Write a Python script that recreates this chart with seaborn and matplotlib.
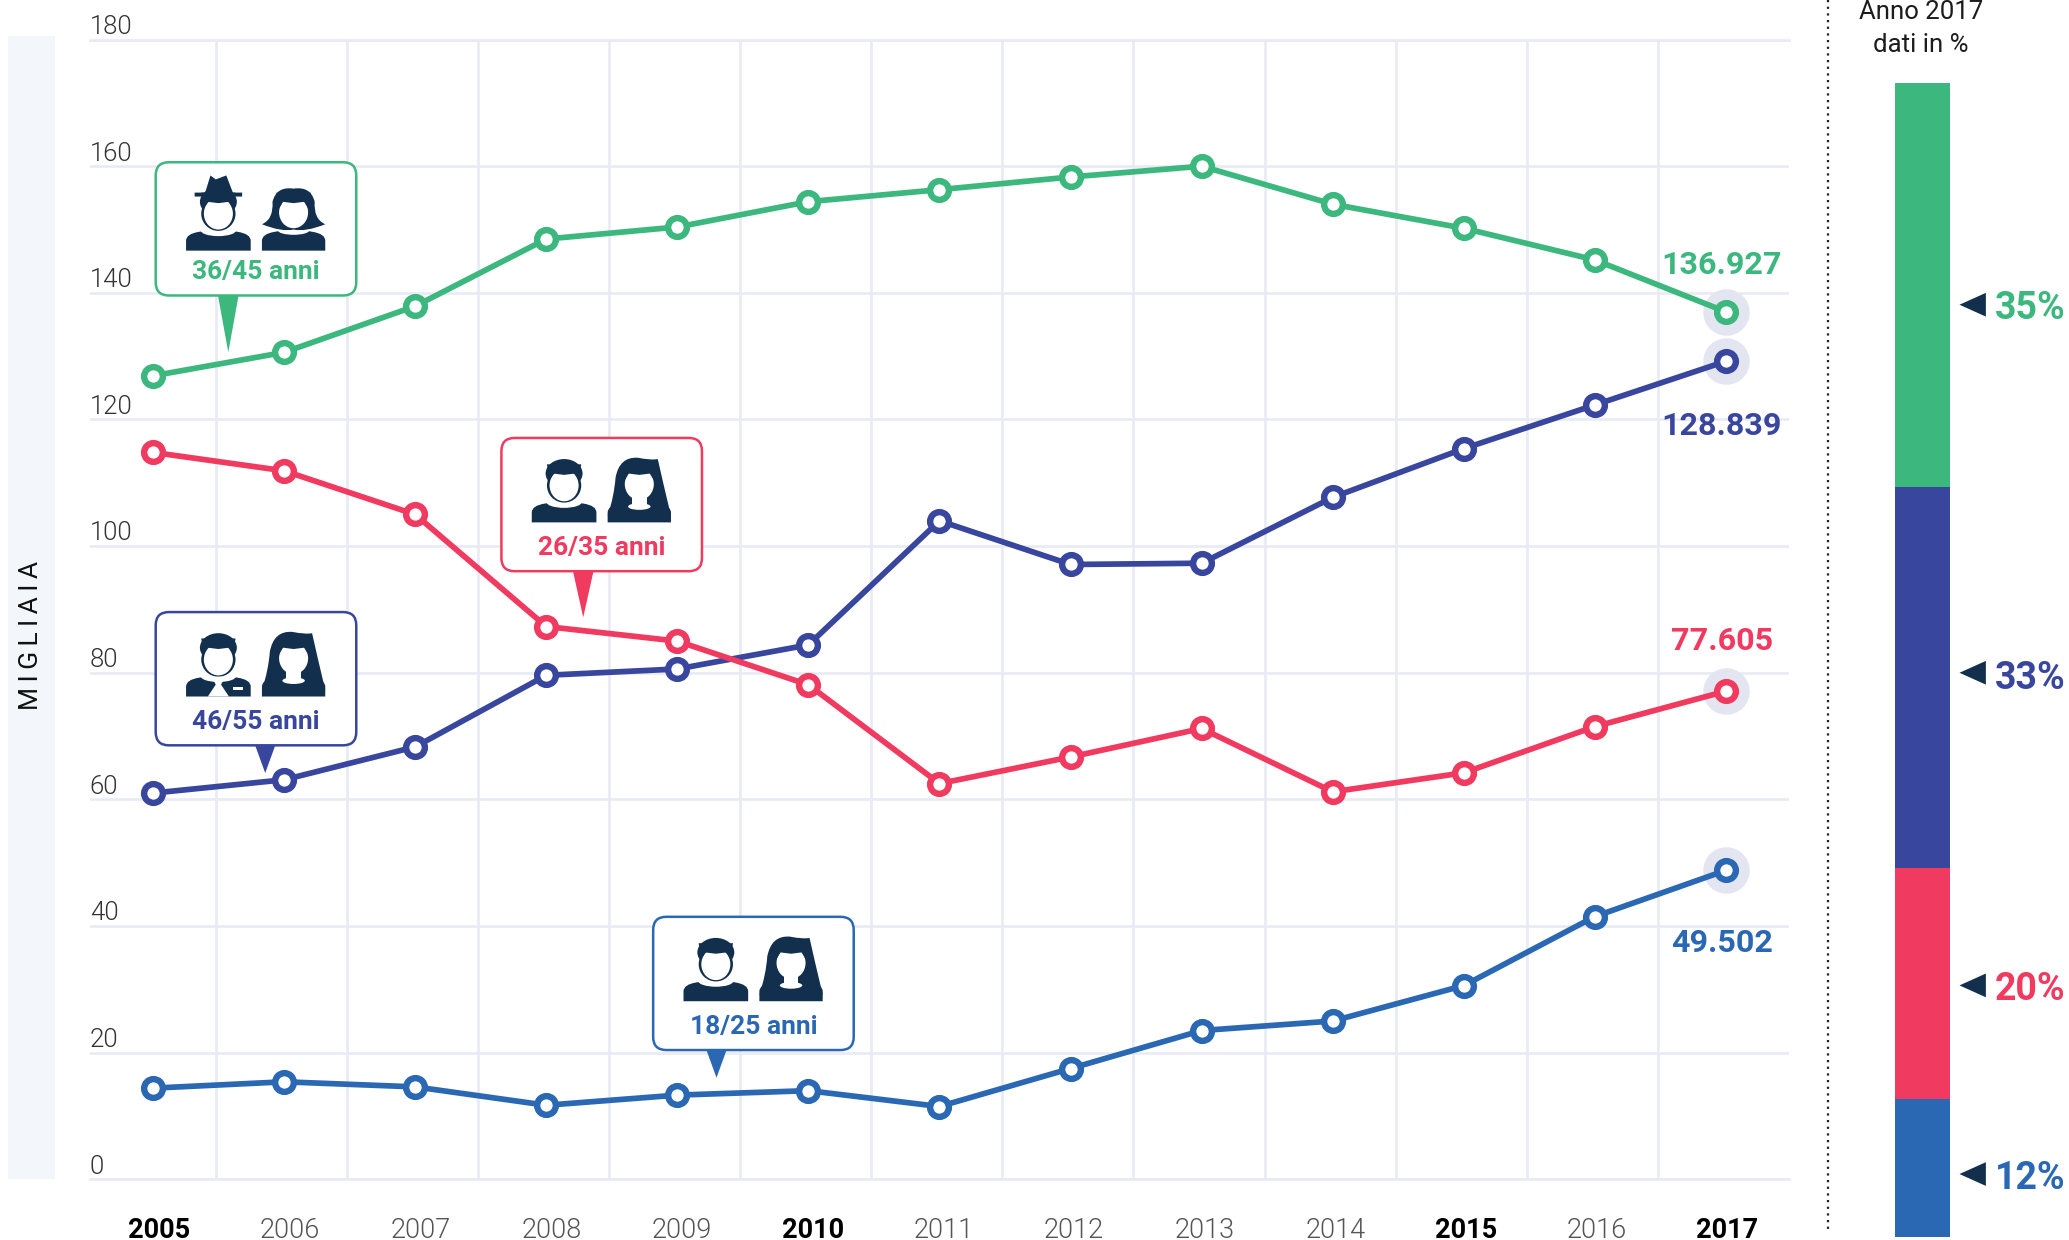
import numpy as np
import pandas as pd
import matplotlib
matplotlib.use("Agg")
import matplotlib.pyplot as plt
import matplotlib.transforms as mtrans
from matplotlib.patches import FancyBboxPatch, Polygon, Ellipse, PathPatch, Rectangle
from matplotlib.path import Path
import seaborn as sns

# ---------- data ----------
years = [2005, 2006, 2007, 2008, 2009, 2010, 2011, 2012, 2013, 2014, 2015, 2016, 2017]
age_36_45 = [126.9, 130.6, 137.9, 148.5, 150.4, 154.4, 156.3, 158.3, 160.0, 154.0, 150.2, 145.2, 137.0]
age_46_55 = [61.0, 63.1, 68.3, 79.6, 80.6, 84.4, 104.0, 97.1, 97.3, 107.7, 115.4, 122.3, 129.2]
age_26_35 = [114.8, 111.9, 105.0, 87.3, 85.0, 78.1, 62.5, 66.7, 71.2, 61.2, 64.2, 71.5, 77.1]
age_18_25 = [14.4, 15.4, 14.6, 11.7, 13.3, 14.0, 11.5, 17.5, 23.5, 25.0, 30.6, 41.5, 48.8]
end_labels = ["136.927", "128.839", "77.605", "49.502"]
share_names = ["36/45 anni", "46/55 anni", "26/35 anni", "18/25 anni"]
share_2017 = [35, 33, 20, 12]
bold_years = [2005, 2010, 2015, 2017]
y_ticks = list(range(0, 181, 20))

GREEN, NAVY, RED, BLUE = "#3CB77E", "#39469E", "#F03A5F", "#2B68B3"
COLORS = [GREEN, NAVY, RED, BLUE]
GRID = "#E8EAF4"
DARK = "#12304E"

sns.set_theme(style="white")
plt.rcParams["font.family"] = ["Roboto", "DejaVu Sans"]

W, H = 1568.0, 940.0
fig = plt.figure(figsize=(20.69, 12.40), dpi=100, facecolor="white")
fig.add_artist(Rectangle((6 / W, 1 - 894 / H), 36 / W, 867 / H, transform=fig.transFigure,
                         fc="#F3F6FB", ec="none", zorder=-1))

# ---------- main chart ----------
ax = fig.add_axes([68 / W, 1 - 894 / H, (1356 - 68) / W, (894 - 30) / H], facecolor="none")
series = [age_36_45, age_46_55, age_26_35, age_18_25]
df = pd.DataFrame({"anno": years * 4,
                   "valore": sum(series, []),
                   "fascia": [n for n in share_names for _ in years]})
last = df[df["anno"] == years[-1]]
sns.scatterplot(data=last, x="anno", y="valore", s=1120, color="#E3E6F0", linewidth=0,
                ax=ax, zorder=2, clip_on=False, legend=False)
for name, col in zip(share_names, COLORS):
    sns.lineplot(data=df[df["fascia"] == name], x="anno", y="valore", color=col, lw=4.1,
                 marker="o", ms=13.5, mfc="white", mec=col, mew=4.6, ax=ax, zorder=3,
                 errorbar=None, legend=False, clip_on=False)

ax.set_xlim(years[0] - 0.483, years[-1] + 0.483)
ax.set_ylim(0, 180)
ax.set_xlabel("")
ax.set_ylabel("M\u2009I\u2009G\u2009L\u2009I\u2009A\u2009I\u2009A", fontsize=19, fontweight="normal",
              color="#111111", va="center")
ax.yaxis.set_label_coords(-0.0345, 0.477)

ax.set_xticks(np.linspace(years[0] + 0.05, years[-1] + 0.01, len(years)))
ax.set_xticklabels([str(y) for y in years])
ax.set_xticks([y + 0.48 for y in years[:-1]], minor=True)
ax.set_yticks(y_ticks)
ax.set_yticklabels([str(v) for v in y_ticks])
ax.tick_params(axis="x", which="both", length=0, pad=27, labelsize=19.5)
ax.tick_params(axis="y", length=0, pad=0, labelsize=18.5)
ax.grid(False)
ax.grid(True, axis="y", which="major", color=GRID, lw=1.9)
ax.grid(True, axis="x", which="minor", color=GRID, lw=1.9)
ax.set_axisbelow(True)
for side, sp in ax.spines.items():
    sp.set_visible(side in ("top", "bottom"))
    sp.set_color(GRID)
    sp.set_linewidth(1.9)

for lab, y in zip(ax.get_xticklabels(), years):
    if y in bold_years:
        lab.set_fontweight("bold")
        lab.set_color("#000000")
    else:
        lab.set_fontweight(300)
        lab.set_color("#555555")
offset = mtrans.ScaledTranslation(0, 0.5 / 72, fig.dpi_scale_trans)
for lab in ax.get_yticklabels():
    lab.set_ha("left")
    lab.set_va("bottom")
    lab.set_fontweight(300)
    lab.set_color("#333333")
    lab.set_transform(lab.get_transform() + offset)

# ---------- 2017 stacked bar ----------
ax2 = fig.add_axes([1436 / W, 1 - 938 / H, 42 / W, (938 - 63) / H], facecolor="none")
bar_df = pd.DataFrame({"anno": [2017] * 4, "pct": share_2017, "fascia": share_names})
sns.histplot(data=bar_df, x="anno", weights="pct", hue="fascia", hue_order=share_names,
             palette=COLORS, multiple="stack", discrete=True, shrink=1, alpha=1, linewidth=0,
             legend=False, ax=ax2)
ax2.set_xlim(2016.5, 2017.5)
ax2.set_ylim(0, sum(share_2017))
ax2.axis("off")

# ---------- overlay in picture coordinates ----------
ov = fig.add_axes([0, 0, 1, 1], facecolor="none", zorder=5)
ov.set_xlim(0, W)
ov.set_ylim(H, 0)
ov.axis("off")

ov.plot([1385, 1385], [0, 932], ls=(0, (1, 2)), color="#222222", lw=1.6)
ov.text(1456, 9, "Anno 2017", ha="center", va="center", fontsize=18.5, color="#1C1C1C")
ov.text(1456, 34, "dati in %", ha="center", va="center", fontsize=18.5, color="#1C1C1C")

C3, L = Path.CURVE3, Path.LINETO


def curve(start, segs, z, fc=DARK):
    verts, codes = [start], [Path.MOVETO]
    for s in segs:
        if len(s) == 2:
            verts.append(s)
            codes.append(L)
        else:
            verts += [(s[0], s[1]), (s[2], s[3])]
            codes += [C3, C3]
    verts.append(start)
    codes.append(Path.CLOSEPOLY)
    ov.add_patch(PathPatch(Path(verts, codes), fc=fc, ec="none", zorder=z))


def shoulders(cx, b, hw=24.5, h=15):
    curve((cx - hw, b), [(cx - hw, b - h * 0.5), (cx - hw, b - h * 0.85, cx - hw * 0.6, b - h * 0.95),
                         (cx - hw * 0.25, b - h * 1.05), (cx + hw * 0.25, b - h * 1.05),
                         (cx + hw * 0.6, b - h * 0.95), (cx + hw, b - h * 0.85, cx + hw, b - h * 0.5),
                         (cx + hw, b)], 7)


def fringe(cx, b, hw=11):
    ov.add_patch(Polygon([(cx - hw, b - 32), (cx - hw + 3, b - 37), (cx, b - 36), (cx + hw - 3, b - 37), (cx + hw, b - 32),
                          (cx + hw + 2, b - 44), (cx - hw - 2, b - 44)], fc=DARK, ec="none", zorder=7.5))


def man(cx, b, hat=False, tie=False):
    shoulders(cx, b)
    ov.add_patch(Ellipse((cx, b - 15.5), 27, 9, fc="white", ec="none", zorder=7.1))
    ov.add_patch(Ellipse((cx, b - 37), 28, 22, fc=DARK, ec="none", zorder=7.2))
    ov.add_patch(Ellipse((cx, b - 28), 26, 26, fc=DARK, ec="none", zorder=7.3))
    ov.add_patch(Ellipse((cx, b - 28), 22, 24, fc="white", ec="none", zorder=7.4))
    fringe(cx, b)
    if hat:
        ov.add_patch(Polygon([(cx - 10, b - 44), (cx - 6, b - 57), (cx - 2, b - 54), (cx + 6, b - 57),
                              (cx + 11, b - 44), (cx + 18, b - 44), (cx + 18, b - 41), (cx - 18, b - 41),
                              (cx - 18, b - 44)], fc=DARK, ec="none", zorder=7.6))
    if tie:
        ov.add_patch(Polygon([(cx - 5, b - 15), (cx + 5, b - 15), (cx + 2, b - 9), (cx + 8, b), (cx - 8, b), (cx - 2, b - 9)],
                             fc="white", ec="none", zorder=7.6))
        ov.add_patch(Rectangle((cx + 11, b - 7), 8, 2, fc="white", ec="none", zorder=7.6))


def woman(cx, b, short=False):
    shoulders(cx, b, hw=24, h=15)
    if short:
        ov.add_patch(Ellipse((cx, b - 15.5), 24, 7, fc="white", ec="none", zorder=7.1))
        curve((cx - 24, b - 20), [(cx - 15, b - 24, cx - 16, b - 37), (cx - 13, b - 49, cx, b - 47),
                                  (cx + 13, b - 49, cx + 16, b - 37), (cx + 15, b - 24, cx + 24, b - 20),
                                  (cx + 9, b - 14, cx, b - 16), (cx - 9, b - 14, cx - 24, b - 20)], 7.2)
    else:
        curve((cx - 24, b - 5), [(cx - 19, b - 20, cx - 18, b - 34), (cx - 15, b - 50, cx - 1, b - 49),
                                 (cx + 9, b - 47, cx + 14, b - 48), (cx + 18, b - 30, cx + 24, b - 5)], 7.2)
    ov.add_patch(Ellipse((cx, b - 29), 22, 24, fc="white", ec="none", zorder=7.3))
    if not short:
        ov.add_patch(Rectangle((cx - 5.5, b - 22), 11, 10, fc="white", ec="none", zorder=7.3))
        ov.add_patch(Ellipse((cx, b - 12), 17, 5, fc="white", ec="none", zorder=7.3))
    fringe(cx, b)


boxes = [  # label, colour, left, top, tail centre x, tail tip y, icon baseline, hat, tie
    (share_names[0], GREEN, 118, 123, 173, 267, 67, True, False),
    (share_names[1], NAVY, 118, 464, 201, 586, 64, False, True),
    (share_names[2], RED, 380, 332, 442, 468, 64, False, False),
    (share_names[3], BLUE, 495, 695, 543, 817, 64, False, False),
]
for label, col, x0, y0, tx, tip, base, hat, tie in boxes:
    w, h, r = 152, 101, 10
    ov.add_patch(Polygon([(tx - 8, y0 + h - 1), (tx + 8, y0 + h - 1), (tx, tip)], fc=col, ec="none", zorder=6))
    ov.add_patch(FancyBboxPatch((x0 + r, y0 + r), w - 2 * r, h - 2 * r, boxstyle=f"round,pad={r},rounding_size={r}",
                                fc="white", ec=col, lw=1.8, zorder=6.5))
    man(x0 + 47.5, y0 + base, hat=hat, tie=tie)
    woman(x0 + 104.5, y0 + base, short=hat)
    ov.text(x0 + w / 2, y0 + 83.5, label, ha="center", va="center", fontsize=19, fontweight="bold", color=col, zorder=8)

for txt, col, yy in zip(end_labels, COLORS, [201, 323, 486, 715]):
    ov.text(1305, yy, txt, ha="center", va="center", fontsize=23.2, fontweight="bold", color=col)

for p, col, yt, yl in zip(share_2017, COLORS, [231, 510, 747, 890], [234, 514, 750, 893]):
    ov.add_patch(Polygon([(1485, yt), (1505, yt - 9), (1505, yt + 9)], fc=DARK, ec="none"))
    ov.text(1512, yl, f"{p}%", ha="left", va="center", fontsize=27, fontweight="bold", color=col)

fig.savefig("out.png", dpi=100, facecolor="white")
